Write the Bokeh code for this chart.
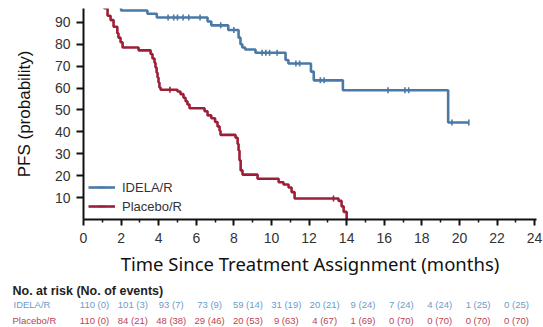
import numpy as np
from bokeh.plotting import figure
from bokeh.models import Range1d, FixedTicker, Legend, LegendItem, Label, ColumnDataSource
from bokeh.embed import file_html
from bokeh.resources import INLINE

# ---------------- data ----------------
idela_t = [0, 1.0, 2.0, 3.4, 3.9, 6.6, 6.8, 7.7, 8.25, 8.35, 8.45, 8.6, 9.15,
           10.75, 10.9, 12.1, 12.25, 13.8, 19.4, 20.5]
idela_s = [100, 97.3, 95.4, 93.9, 92.2, 90.4, 88.6, 86.5, 83.0, 80.0, 78.5, 77.6, 76.1,
           72.8, 71.2, 67.5, 63.5, 59.0, 44.3, 44.3]
idela_cens = [4.5, 4.8, 5.0, 5.3, 5.6, 6.2, 7.3, 8.0, 9.5, 9.7, 9.9, 10.3, 11.3, 11.5,
              12.6, 12.8, 16.2, 17.1, 17.3, 19.6, 20.5]

placebo_t = [0, 0.7, 1.1, 1.28, 1.44, 1.6, 1.8, 1.86, 1.97, 2.08, 2.93, 3.57, 3.67, 3.78,
             3.83, 3.89, 3.94, 3.99, 4.04, 4.1, 5.0, 5.16, 5.32, 5.43, 5.53, 5.64, 6.44,
             6.6, 6.8, 7.0, 7.13, 7.24, 7.29, 8.09, 8.2, 8.25, 8.3, 8.36, 8.46, 9.26,
             10.38, 10.64, 10.91, 11.07, 11.23, 13.57, 13.73, 13.84, 14.0]
placebo_s = [100, 98.2, 96.4, 93, 91, 88, 85, 83, 80.9, 78.5, 77.2, 75.5, 73.5, 71.5,
             69.4, 67, 64.8, 62.5, 60.3, 59.2, 58.4, 57.2, 55.6, 54, 52.5, 50.8, 49.4,
             47.5, 46.2, 44.5, 42.5, 40.5, 38.6, 37.3, 34.5, 31.5, 27, 22.4, 20.5, 18.6,
             17.0, 16.0, 14.6, 12.5, 9.6, 8.5, 6, 3.5, 0]
placebo_cens = [4.6, 13.3]

x_ticks = list(range(0, 25, 2))
x_minor = list(range(1, 25, 2))
y_ticks = [10, 20, 30, 40, 50, 60, 70, 80, 90]

risk_times = [0, 2, 4, 6, 8, 10, 12, 14, 16, 18, 20, 22]
idela_risk = ["110 (0)", "101 (3)", "93 (7)", "73 (9)", "59 (14)", "31 (19)", "20 (21)",
              "9 (24)", "7 (24)", "4 (24)", "1 (25)", "0 (25)"]
placebo_risk = ["110 (0)", "84 (21)", "48 (38)", "29 (46)", "20 (53)", "9 (63)", "4 (67)",
                "1 (69)", "0 (70)", "0 (70)", "0 (70)", "0 (70)"]

BLUE = "#4a79a6"
RED = "#9b1f36"
BLUE_T = "#6c9cc8"
RED_T = "#bd3f57"
FONT = "Liberation Sans"


def step_value(ts, ss, t):
    i = np.searchsorted(np.array(ts), t, side="right") - 1
    return ss[i]


# ---------------- main plot ----------------
p = figure(width=543, height=280, x_range=Range1d(0, 24.1), y_range=Range1d(0, 96.3),
           output_backend="svg", toolbar_location=None,
           min_border_left=83, min_border_right=7, min_border_top=8, min_border_bottom=61)
p.background_fill_color = "white"
p.border_fill_color = "white"
p.outline_line_color = None
p.xgrid.visible = False
p.ygrid.visible = False

bl = p.step(idela_t, idela_s, mode="after", line_color=BLUE, line_width=2.6)
bm = p.scatter(idela_cens, [step_value(idela_t, idela_s, t) for t in idela_cens],
               marker="dash", angle=np.pi / 2, size=6, line_color=BLUE, line_width=1.6)
rl = p.step(placebo_t, placebo_s, mode="after", line_color=RED, line_width=2.6)
rm = p.scatter(placebo_cens, [step_value(placebo_t, placebo_s, t) for t in placebo_cens],
               marker="dash", angle=np.pi / 2, size=6, line_color=RED, line_width=1.6)

legend = Legend(items=[LegendItem(label="IDELA/R", renderers=[bl, bm]),
                       LegendItem(label="Placebo/R", renderers=[rl, rm])],
                location="bottom_left")
legend.background_fill_alpha = 0
legend.border_line_color = None
legend.label_text_font = FONT
legend.label_text_font_size = "13px"
legend.label_text_color = "#333333"
legend.glyph_width = 27
legend.glyph_height = 16
legend.label_height = 16
legend.spacing = 3
legend.padding = 3
legend.margin = 5
legend.label_standoff = 7
p.add_layout(legend)

for ax in (p.xaxis, p.yaxis):
    ax.axis_line_width = 2
    ax.axis_line_color = "#111111"
    ax.major_tick_line_width = 2
    ax.major_tick_line_color = "#111111"
    ax.minor_tick_line_color = "#111111"
    ax.minor_tick_line_width = 1.5
    ax.major_tick_in = 0
    ax.minor_tick_in = 0
    ax.major_label_text_font = FONT
    ax.major_label_text_font_size = "14px"
    ax.major_label_text_color = "#333333"
    ax.axis_label_text_font_style = "normal"
    ax.axis_label_text_color = "#111111"

p.xaxis.ticker = FixedTicker(ticks=x_ticks, minor_ticks=x_minor)
p.xaxis.major_tick_out = 6
p.xaxis.minor_tick_out = 3
p.xaxis.major_label_standoff = 7
p.xaxis.axis_label = "Time Since Treatment Assignment (months)"
p.xaxis.axis_label_text_font = "Noto Sans"
p.xaxis.axis_label_text_font_size = "18.5px"
p.xaxis.axis_label_standoff = 5

p.yaxis.ticker = FixedTicker(ticks=y_ticks, minor_ticks=[])
p.yaxis.major_tick_out = 7
p.yaxis.minor_tick_out = 0
p.yaxis.major_label_standoff = 6
p.yaxis.axis_label = "PFS (probability)"
p.yaxis.axis_label_text_font = FONT
p.yaxis.axis_label_text_font_size = "17px"
p.yaxis.axis_label_standoff = 18

# ---------------- number-at-risk table (separate root, full-width frame) ----------------
tbl = figure(width=543, height=47, x_range=Range1d(-4.901, 23.41), y_range=Range1d(0, 47),
             output_backend="svg", toolbar_location=None, min_border=0,
             min_border_left=0, min_border_right=0, min_border_top=0, min_border_bottom=0)
tbl.axis.visible = False
tbl.xgrid.visible = False
tbl.ygrid.visible = False
tbl.outline_line_color = None
tbl.background_fill_color = "white"
tbl.border_fill_color = "white"

src_i = ColumnDataSource(dict(x=risk_times, y=[23] * len(risk_times), txt=idela_risk))
src_p = ColumnDataSource(dict(x=risk_times, y=[7] * len(risk_times), txt=placebo_risk))
tbl.text(x="x", y="y", text="txt", source=src_i, text_color=BLUE_T, text_font_size="9.5px",
         text_align="center", text_baseline="middle", text_font={"value": FONT})
tbl.text(x="x", y="y", text="txt", source=src_p, text_color=RED_T, text_font_size="9.5px",
         text_align="center", text_baseline="middle", text_font={"value": FONT})

tbl.add_layout(Label(x=12, y=37, x_units="screen", y_units="data",
                     text="No. at risk (No. of events)", text_font=FONT,
                     text_font_size="12.5px", text_font_style="bold", text_color="#222222",
                     text_baseline="middle"))
tbl.add_layout(Label(x=13, y=23, x_units="screen", y_units="data", text="IDELA/R",
                     text_font=FONT, text_font_size="9.5px", text_color=BLUE_T,
                     text_baseline="middle"))
tbl.add_layout(Label(x=12, y=7, x_units="screen", y_units="data", text="Placebo/R",
                     text_font=FONT, text_font_size="9.5px", text_color=RED_T,
                     text_baseline="middle"))

open("out.html", "w").write(file_html([p, tbl], INLINE))
